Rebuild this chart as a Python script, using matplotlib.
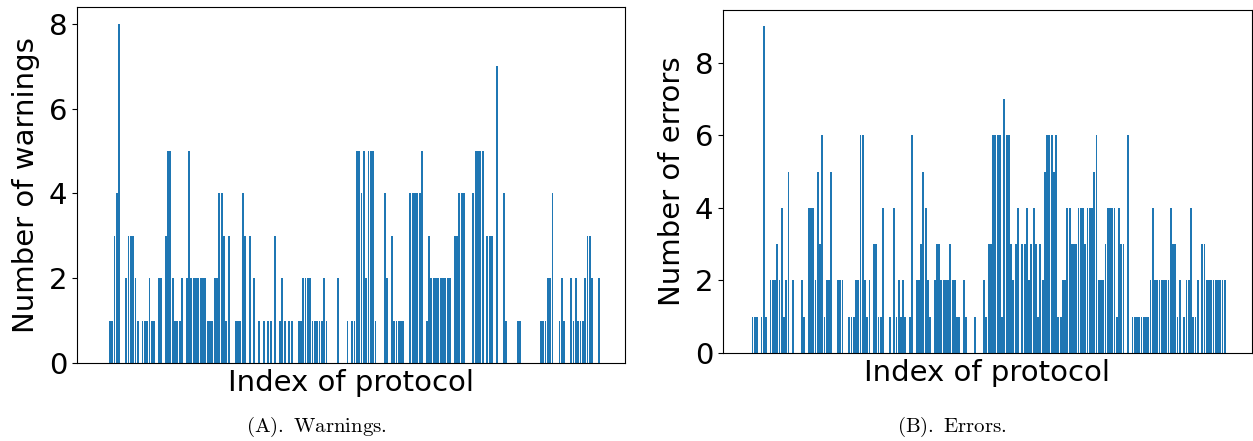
import matplotlib
matplotlib.use("Agg")
import matplotlib.pyplot as plt
import numpy as np

plt.rcParams['mathtext.fontset'] = 'cm'

# Number of warnings per protocol (index 0..213)
warnings = [0, 0, 0,
    1, 1, 3, 4, 8, 0, 0, 2, 3, 3, 3, 2, 1, 0, 1, 1, 1, 2, 1, 1, 0, 2, 2, 0, 3, 5, 5, 2,
    1, 1, 1, 2, 0, 2, 5, 2, 2, 2, 2, 2, 2, 2, 1, 1, 1, 2, 2, 4, 4, 3, 1, 3,
    0, 0, 1, 1, 1, 4, 3, 0, 3, 0, 2, 0, 1, 0, 1, 0, 1, 1, 0, 3, 0, 1, 2, 1, 0, 1, 1, 0, 0,
    1, 1, 2, 2, 2, 2, 1, 1, 1, 1, 1, 2, 1, 0, 0, 0, 0, 2, 0, 0, 0, 1, 0,
    1, 1, 5, 5, 4, 5, 2, 5, 5, 5, 1, 0, 0, 0, 4, 2, 0, 3, 1, 1, 1, 1, 1, 0, 0,
    4, 4, 4, 4, 4, 5, 0, 1, 3, 2, 2, 2, 2, 2, 2, 2, 2, 2, 0, 3, 3, 4, 4, 4, 0, 0, 0,
    4, 5, 5, 5, 5, 0, 3, 3, 3, 0, 7, 0, 0, 4, 1, 0, 0, 0, 0, 1, 1,
    0, 0, 0, 0, 0, 0, 0, 0, 1, 1, 1, 2, 2, 4, 0, 0, 1, 2, 1, 0, 0, 2, 1, 2, 1, 1, 1, 2,
    3, 3, 2, 0, 0, 2]

# Number of errors per protocol (index 0..213)
errors = [0, 0,
    1, 1, 1, 0, 1, 9, 1, 0, 2, 2, 2, 3, 2, 4, 1, 2, 5, 0, 2, 0, 0, 0, 2, 1, 0, 4, 4, 4,
    2, 5, 3, 6, 1, 2, 2, 5, 0, 0, 2, 2, 2, 0, 0, 1, 1, 1, 2, 2, 6, 6, 2, 1, 2,
    0, 3, 3, 1, 1, 4, 0, 0, 1, 0, 4, 1, 2, 1, 2, 1, 0, 1, 6, 0, 2, 2, 3, 5, 4, 2, 1, 0,
    2, 3, 3, 2, 2, 2, 2, 3, 2, 2, 1, 1, 0, 2, 1, 0, 0, 0, 1, 0, 0, 0, 2, 1, 3,
    3, 6, 6, 6, 6, 1, 7, 6, 6, 3, 2, 3, 4, 0, 3, 3, 4, 2, 3, 4, 3, 1, 3, 2, 5, 6, 6, 6,
    5, 6, 1, 1, 2, 2, 4, 4, 3, 3, 3, 4, 4, 4, 3, 4, 4, 4, 5, 6, 2, 2, 2, 3, 4, 4,
    4, 4, 1, 4, 3, 3, 0, 6, 0, 1, 1, 1, 1, 1, 1, 1, 1, 2, 4, 2, 2, 2, 2, 2, 2, 2,
    4, 3, 3, 1, 2, 0, 1, 2, 2, 4, 1, 1, 2, 0, 3, 3, 2, 2, 2, 2, 2, 2, 2, 2, 2,
    0]

xlabel = "Index of protocol"
ylabel_w = "Number of warnings"
ylabel_e = "Number of errors"
caption_a = r"$\mathrm{(A).\ Warnings.}$"
caption_b = r"$\mathrm{(B).\ Errors.}$"

W, H = 1253, 441
fig = plt.figure(figsize=(W / 100, H / 100), dpi=100)

ax1 = fig.add_axes([77 / W, 1 - 363 / H, 548 / W, 356 / H])
ax2 = fig.add_axes([723 / W, 1 - 353 / H, 529 / W, 343 / H])

fs = 21
for ax, vals, yl, yt in [(ax1, warnings, ylabel_w, [0, 2, 4, 6, 8]),
                         (ax2, errors, ylabel_e, [0, 2, 4, 6, 8])]:
    x = np.arange(len(vals))
    ax.bar(x, vals, color="#1f77b4", width=0.8)
    ax.set_xticks([])
    ax.set_yticks(yt)
    ax.tick_params(axis='y', labelsize=fs)
    ax.set_xlabel(xlabel, fontsize=fs, labelpad=4)
    ax.set_ylabel(yl, fontsize=fs, labelpad=6)

fig.text(316 / W, 1 - 427 / H, caption_a, ha='center', va='center', fontsize=15)
fig.text(952 / W, 1 - 427 / H, caption_b, ha='center', va='center', fontsize=15)

fig.savefig("out.png", dpi=100)
